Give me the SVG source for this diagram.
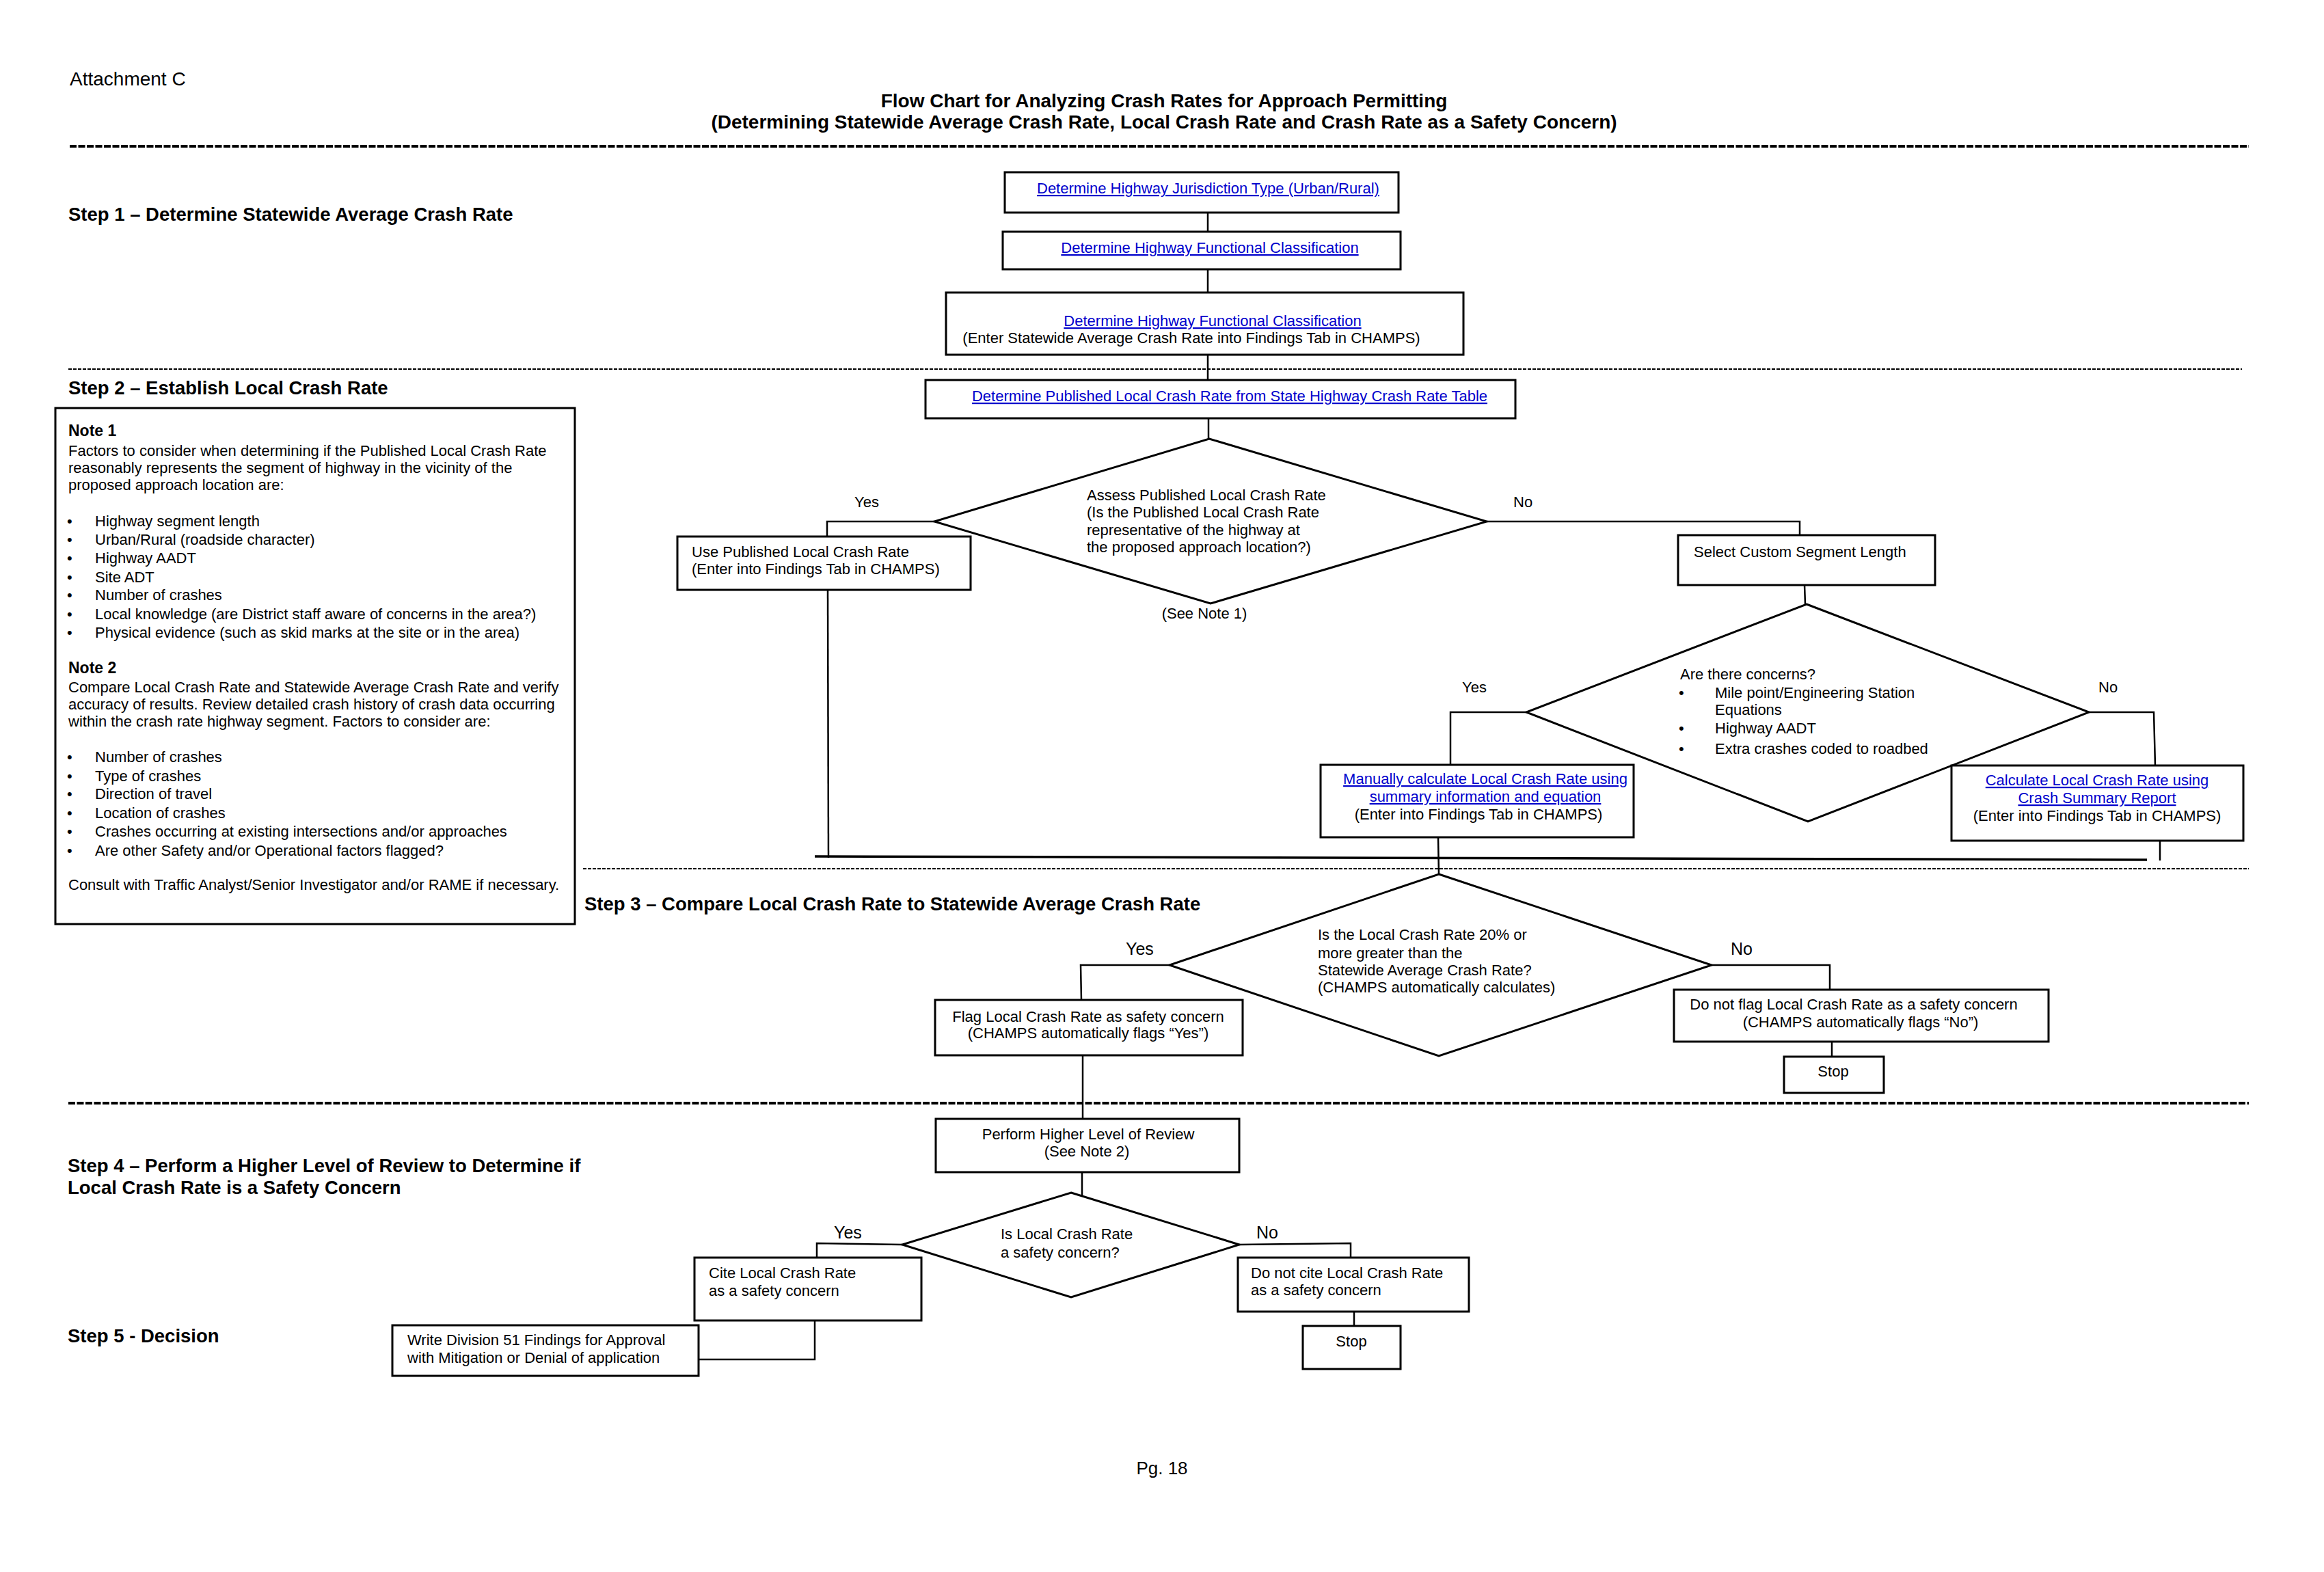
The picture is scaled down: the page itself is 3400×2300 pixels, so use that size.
<svg xmlns="http://www.w3.org/2000/svg" width="3400" height="2300" viewBox="0 0 3400 2300">
<style>
text{font-family:"Liberation Sans",Arial,sans-serif;font-size:22px;fill:#000}
.h{font-weight:bold;font-size:27.5px}
.ttl{font-weight:bold;font-size:28px;text-anchor:middle}
.big{font-size:25px}
.lk{fill:#0000cc;text-decoration:underline}
.m{text-anchor:middle}
.box{fill:#fff;stroke:#000;stroke-width:3}
.dia{fill:#fff;stroke:#000;stroke-width:3;stroke-linejoin:miter}
.ln{fill:none;stroke:#000;stroke-width:2.5}
.mg{fill:none;stroke:#000;stroke-width:3.5}
.dk{stroke:#000;stroke-width:4;stroke-dasharray:10 2.5}
.dt{stroke:#000;stroke-width:2;stroke-dasharray:5 2}
</style>
<rect width="3400" height="2300" fill="#fff"/>
<g id="header">
<text x="102" y="125" style="font-size:28px">Attachment C</text>
<text class="ttl" x="1703" y="157">Flow Chart for Analyzing Crash Rates for Approach Permitting</text>
<text class="ttl" x="1703" y="188">(Determining Statewide Average Crash Rate, Local Crash Rate and Crash Rate as a Safety Concern)</text>
<line class="dk" x1="102" y1="214" x2="3290" y2="214"/>
<line class="dt" x1="100" y1="540" x2="3280" y2="540"/>
<line class="dt" x1="853" y1="1271" x2="3290" y2="1271"/>
<line class="dk" x1="100" y1="1614" x2="3290" y2="1614"/>
<text class="h" x="100" y="323">Step 1 – Determine Statewide Average Crash Rate</text>
<text class="h" x="100" y="577">Step 2 – Establish Local Crash Rate</text>
<text class="h" x="855" y="1332">Step 3 – Compare Local Crash Rate to Statewide Average Crash Rate</text>
<text class="h" x="99" y="1715">Step 4 – Perform a Higher Level of Review to Determine if</text>
<text class="h" x="99" y="1747">Local Crash Rate is a Safety Concern</text>
<text class="h" x="99" y="1964">Step 5 - Decision</text>
<text x="1700" y="2157" style="font-size:26px" text-anchor="middle">Pg. 18</text>
</g>
<g id="notes">
<rect class="box" x="81" y="597" width="760" height="755"/>
<text x="100" y="638" style="font-weight:bold;font-size:23px">Note 1</text>
<text x="100" y="667">Factors to consider when determining if the Published Local Crash Rate</text>
<text x="100" y="692">reasonably represents the segment of highway in the vicinity of the</text>
<text x="100" y="717">proposed approach location are:</text>
<text x="98" y="770">•</text><text x="139" y="770">Highway segment length</text>
<text x="98" y="797">•</text><text x="139" y="797">Urban/Rural (roadside character)</text>
<text x="98" y="824">•</text><text x="139" y="824">Highway AADT</text>
<text x="98" y="852">•</text><text x="139" y="852">Site ADT</text>
<text x="98" y="878">•</text><text x="139" y="878">Number of crashes</text>
<text x="98" y="906">•</text><text x="139" y="906">Local knowledge (are District staff aware of concerns in the area?)</text>
<text x="98" y="933">•</text><text x="139" y="933">Physical evidence (such as skid marks at the site or in the area)</text>
<text x="100" y="985" style="font-weight:bold;font-size:23px">Note 2</text>
<text x="100" y="1013">Compare Local Crash Rate and Statewide Average Crash Rate and verify</text>
<text x="100" y="1038">accuracy of results.  Review detailed crash history of crash data occurring</text>
<text x="100" y="1063">within the crash rate highway segment. Factors to consider are:</text>
<text x="98" y="1115">•</text><text x="139" y="1115">Number of crashes</text>
<text x="98" y="1143">•</text><text x="139" y="1143">Type of crashes</text>
<text x="98" y="1169">•</text><text x="139" y="1169">Direction of travel</text>
<text x="98" y="1197">•</text><text x="139" y="1197">Location of crashes</text>
<text x="98" y="1224">•</text><text x="139" y="1224">Crashes occurring at existing intersections and/or approaches</text>
<text x="98" y="1252">•</text><text x="139" y="1252">Are other Safety and/or Operational factors flagged?</text>
<text x="100" y="1302">Consult with Traffic Analyst/Senior Investigator and/or RAME if necessary.</text>
</g>
<g id="connectors">
<line class="ln" x1="1767" y1="311" x2="1767" y2="339"/>
<line class="ln" x1="1767" y1="394" x2="1767" y2="428"/>
<line class="ln" x1="1767" y1="519" x2="1767" y2="556"/>
<line class="ln" x1="1768" y1="612" x2="1768" y2="642"/>
<polyline class="ln" points="1367,763 1210,763 1210,785"/>
<line class="ln" x1="1211" y1="863" x2="1212" y2="1255"/>
<polyline class="ln" points="2175,763 2633,763 2633,783"/>
<line class="ln" x1="2640" y1="856" x2="2641" y2="884"/>
<polyline class="ln" points="2233,1042 2122,1042 2122,1119"/>
<polyline class="ln" points="3056,1042 3151,1042 3153,1120"/>
<line class="ln" x1="2104" y1="1225" x2="2105" y2="1279"/>
<line class="ln" x1="3160" y1="1230" x2="3160" y2="1259"/>
<line class="mg" x1="1192" y1="1253" x2="3141" y2="1258"/>
<polyline class="ln" points="1711,1412 1581,1412 1582,1463"/>
<polyline class="ln" points="2504,1412 2677,1412 2677,1448"/>
<line class="ln" x1="2680" y1="1524" x2="2680" y2="1546"/>
<line class="ln" x1="1584" y1="1544" x2="1584" y2="1637"/>
<line class="ln" x1="1583" y1="1715" x2="1583" y2="1757"/>
<polyline class="ln" points="1320,1821 1195,1819 1195,1840"/>
<polyline class="ln" points="1192,1932 1192,1989 1022,1989"/>
<polyline class="ln" points="1813,1821 1976,1819 1976,1840"/>
<line class="ln" x1="1981" y1="1919" x2="1981" y2="1940"/>
<text x="1250" y="742">Yes</text>
<text x="2214" y="742">No</text>
<text x="2139" y="1013">Yes</text>
<text x="3070" y="1013">No</text>
<text class="big" x="1647" y="1397">Yes</text>
<text class="big" x="2532" y="1397">No</text>
<text class="big" x="1220" y="1812">Yes</text>
<text class="big" x="1838" y="1812">No</text>
</g>
<g id="n-jurisdiction">
<rect class="box" x="1470" y="252" width="576" height="59"/>
<text class="lk" x="1517" y="283">Determine Highway Jurisdiction Type (Urban/Rural)</text>
</g>
<g id="n-functional">
<rect class="box" x="1467" y="339" width="582" height="55"/>
<text class="lk m" x="1770" y="370">Determine Highway Functional Classification</text>
</g>
<g id="n-functional2">
<rect class="box" x="1384" y="428" width="757" height="91"/>
<text class="lk m" x="1774" y="477">Determine Highway Functional Classification</text>
<text class="m" x="1743" y="502">(Enter Statewide Average Crash Rate into Findings Tab in CHAMPS)</text>
</g>
<g id="n-published">
<rect class="box" x="1354" y="556" width="863" height="56"/>
<text class="lk m" x="1799" y="587">Determine Published Local Crash Rate from State Highway Crash Rate Table</text>
</g>
<g id="n-assess">
<polygon class="dia" points="1769,642 2175,763 1771,883 1367,763"/>
<text x="1590" y="732">Assess Published Local Crash Rate</text>
<text x="1590" y="757">(Is the Published Local Crash Rate</text>
<text x="1590" y="783">representative of the highway at</text>
<text x="1590" y="808">the proposed approach location?)</text>
<text class="m" x="1762" y="905">(See Note 1)</text>
</g>
<g id="n-use">
<rect class="box" x="991" y="785" width="429" height="78"/>
<text x="1012" y="815">Use Published Local Crash Rate</text>
<text x="1012" y="840">(Enter into Findings Tab in CHAMPS)</text>
</g>
<g id="n-custom">
<rect class="box" x="2455" y="783" width="376" height="73"/>
<text x="2478" y="815">Select Custom Segment Length</text>
</g>
<g id="n-concerns">
<polygon class="dia" points="2643,884 3056,1042 2645,1202 2233,1042"/>
<text x="2458" y="994">Are there concerns?</text>
<text x="2456" y="1021">•</text><text x="2509" y="1021">Mile point/Engineering Station</text>
<text x="2509" y="1046">Equations</text>
<text x="2456" y="1073">•</text><text x="2509" y="1073">Highway AADT</text>
<text x="2456" y="1103">•</text><text x="2509" y="1103">Extra crashes coded to roadbed</text>
</g>
<g id="n-manual">
<rect class="box" x="1932" y="1119" width="458" height="106"/>
<text class="lk m" x="2173" y="1147">Manually calculate Local Crash Rate using</text>
<text class="lk m" x="2173" y="1173">summary information and equation</text>
<text class="m" x="2163" y="1199">(Enter into Findings Tab in CHAMPS)</text>
</g>
<g id="n-calc">
<rect class="box" x="2855" y="1120" width="427" height="110"/>
<text class="lk m" x="3068" y="1149">Calculate Local Crash Rate using</text>
<text class="lk m" x="3068" y="1175">Crash Summary Report</text>
<text class="m" x="3068" y="1201">(Enter into Findings Tab in CHAMPS)</text>
</g>
<g id="n-compare">
<polygon class="dia" points="2105,1279 2504,1412 2105,1545 1711,1412"/>
<text x="1928" y="1375">Is the Local Crash Rate 20% or</text>
<text x="1928" y="1402">more greater than the</text>
<text x="1928" y="1427">Statewide Average Crash Rate?</text>
<text x="1928" y="1452">(CHAMPS automatically calculates)</text>
</g>
<g id="n-flag">
<rect class="box" x="1368" y="1463" width="450" height="81"/>
<text class="m" x="1592" y="1495">Flag Local Crash Rate as safety concern</text>
<text class="m" x="1592" y="1519">(CHAMPS automatically flags “Yes”)</text>
</g>
<g id="n-noflag">
<rect class="box" x="2449" y="1448" width="548" height="76"/>
<text class="m" x="2712" y="1477">Do not flag Local Crash Rate as a safety concern</text>
<text class="m" x="2722" y="1503">(CHAMPS automatically flags “No”)</text>
</g>
<g id="n-stop1">
<rect class="box" x="2610" y="1546" width="146" height="53"/>
<text class="m" x="2682" y="1575">Stop</text>
</g>
<g id="n-review">
<rect class="box" x="1369" y="1637" width="444" height="78"/>
<text class="m" x="1592" y="1667">Perform Higher Level of Review</text>
<text class="m" x="1590" y="1692">(See Note 2)</text>
</g>
<g id="n-safety">
<polygon class="dia" points="1567,1745 1813,1821 1567,1898 1320,1821"/>
<text x="1464" y="1813">Is Local Crash Rate</text>
<text x="1464" y="1840">a safety concern?</text>
</g>
<g id="n-cite">
<rect class="box" x="1016" y="1840" width="332" height="92"/>
<text x="1037" y="1870">Cite Local Crash Rate</text>
<text x="1037" y="1896">as a safety concern</text>
</g>
<g id="n-write">
<rect class="box" x="574" y="1939" width="448" height="74"/>
<text x="596" y="1968">Write Division 51 Findings for Approval</text>
<text x="596" y="1994">with Mitigation or Denial of application</text>
</g>
<g id="n-nocite">
<rect class="box" x="1811" y="1840" width="338" height="79"/>
<text x="1830" y="1870">Do not cite Local Crash Rate</text>
<text x="1830" y="1895">as a safety concern</text>
</g>
<g id="n-stop2">
<rect class="box" x="1906" y="1940" width="143" height="63"/>
<text class="m" x="1977" y="1970">Stop</text>
</g>
</svg>
